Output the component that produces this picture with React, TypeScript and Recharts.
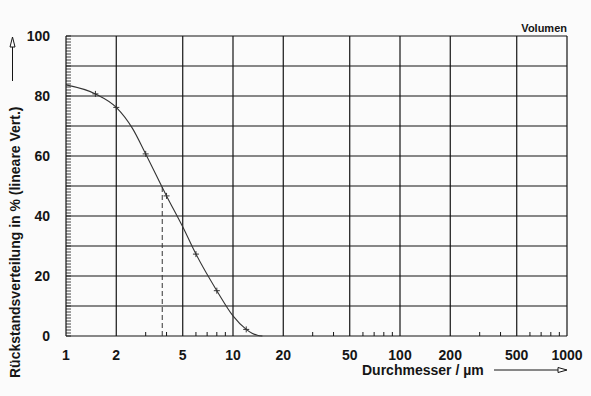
import React from "react";
import { LineChart, Line, XAxis, YAxis, CartesianGrid, ReferenceLine } from "recharts";

// Rückstandsverteilung (Volumen) über dem Partikeldurchmesser
const diameters = [1, 1.5, 2, 2.5, 3, 4, 5, 6, 8, 10, 12, 13, 14, 15];
const residue = [83.7, 80.7, 76.2, 69.2, 60.7, 46.7, 36.4, 27.3, 15.1, 6.7, 2.2, 0.9, 0.25, 0];
const markedDiameters = [1.5, 2, 3, 4, 6, 8, 12];

const xTicks = [1, 2, 5, 10, 20, 50, 100, 200, 500, 1000];
const xMinorTicks = [3, 4, 6, 7, 8, 9, 30, 40, 60, 70, 80, 90, 300, 400, 600, 700, 800, 900];
const yTicks = [0, 10, 20, 30, 40, 50, 60, 70, 80, 90, 100];

const medianDiameter = 3.77;
const medianResidue = 50;

const FONT = "'Liberation Sans', Arial, sans-serif";
const INK = "#151515";
const PLOT_BOTTOM = 336;
const PLOT_LEFT = 66;

const data = diameters.map((d, i) => ({ d, r: residue[i] }));

function CrossDot(props: any) {
  const { cx, cy, payload, index } = props;
  if (!markedDiameters.includes(payload.d)) return <g key={`dot-${index}`} />;
  return (
    <g key={`dot-${index}`} stroke="#333" strokeWidth={1}>
      <line x1={cx - 3} y1={cy} x2={cx + 3} y2={cy} />
      <line x1={cx} y1={cy - 3} x2={cx} y2={cy + 3} />
    </g>
  );
}

// short tick marks pointing into the plot
function MinorXTick(props: any) {
  const { x } = props;
  return <line x1={x} y1={PLOT_BOTTOM} x2={x} y2={PLOT_BOTTOM - 4} stroke={INK} strokeWidth={1} />;
}

function MinorYTick(props: any) {
  const { y } = props;
  return <line x1={PLOT_LEFT} y1={y} x2={PLOT_LEFT + 5} y2={y} stroke={INK} strokeWidth={0.8} />;
}

function XTitle(props: any) {
  const { viewBox } = props;
  const right = viewBox.x + viewBox.width;
  const y = viewBox.y + 34;
  return (
    <g>
      <text x={right - 205} y={y + 5} fontFamily={FONT} fontWeight="bold" fontSize={14} fill={INK}>
        Durchmesser / µm
      </text>
      <line x1={right - 73} y1={y} x2={right - 8} y2={y} stroke={INK} strokeWidth={1} />
      <path d={`M${right - 9},${y - 2.5} L${right},${y} L${right - 9},${y + 2.5} Z`} fill="#fff" stroke={INK} strokeWidth={1} />
    </g>
  );
}

function YTitle() {
  return (
    <g>
      <text
        transform="translate(20,378) rotate(-90)"
        fontFamily={FONT}
        fontWeight="bold"
        fontSize={14}
        fill={INK}
      >
        Rückstandsverteilung in % (lineare Vert.)
      </text>
      <line x1={12.5} y1={81} x2={12.5} y2={46} stroke={INK} strokeWidth={1} />
      <path d="M10,47 L12.5,37 L15,47 Z" fill="#fff" stroke={INK} strokeWidth={1} />
    </g>
  );
}

export default function App() {
  return (
    <div style={{ position: "absolute", left: 0, top: 0, width: 591, height: 396, background: "#fbfbfb" }}>
      <LineChart width={591} height={396} data={data} margin={{ top: 36, right: 24, bottom: 0, left: 0 }}>
        <CartesianGrid stroke={INK} strokeWidth={1.2} />
        <XAxis
          dataKey="d"
          type="number"
          scale="log"
          domain={[1, 1000]}
          ticks={xTicks}
          height={60}
          axisLine={false}
          tickLine={false}
          tickSize={8}
          tickMargin={6}
          tick={{ fontFamily: FONT, fontWeight: "bold", fontSize: 14, fill: INK }}
          label={<XTitle />}
        />
        <XAxis
          xAxisId="minor"
          dataKey="d"
          type="number"
          scale="log"
          domain={[1, 1000]}
          ticks={xMinorTicks}
          interval={0}
          height={1}
          mirror
          axisLine={false}
          tickLine={false}
          tick={<MinorXTick />}
        />
        <YAxis
          type="number"
          domain={[0, 100]}
          ticks={yTicks}
          width={66}
          axisLine={false}
          tickLine={false}
          tickSize={8}
          tickMargin={8}
          tickFormatter={(v: number) => (v % 20 === 0 ? String(v) : "")}
          tick={{ fontFamily: FONT, fontWeight: "bold", fontSize: 14, fill: INK }}
          label={<YTitle />}
        />
        <YAxis
          yAxisId="minor"
          type="number"
          domain={[0, 100]}
          tickCount={101}
          allowDecimals={false}
          interval={0}
          width={1}
          mirror
          axisLine={false}
          tickLine={false}
          tick={<MinorYTick />}
        />
        <ReferenceLine
          segment={[
            { x: medianDiameter, y: 0 },
            { x: medianDiameter, y: medianResidue },
          ]}
          stroke="#333"
          strokeWidth={1}
          strokeDasharray="5 3"
        />
        <Line
          xAxisId="minor"
          yAxisId="minor"
          dataKey="r"
          stroke="none"
          dot={false}
          activeDot={false}
          isAnimationActive={false}
        />
        <Line
          dataKey="r"
          type="monotone"
          stroke="#333"
          strokeWidth={1.1}
          dot={CrossDot}
          activeDot={false}
          isAnimationActive={false}
        />
      </LineChart>
      <div
        style={{
          position: "absolute",
          right: 24,
          top: 21,
          fontFamily: FONT,
          fontWeight: "bold",
          fontSize: 11,
          color: INK,
          lineHeight: "14px",
        }}
      >
        Volumen
      </div>
    </div>
  );
}
